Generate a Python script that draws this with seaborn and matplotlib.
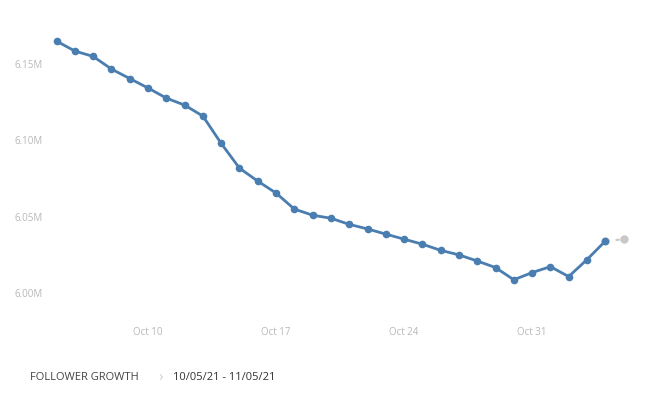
import pandas as pd
import seaborn as sns
import matplotlib.pyplot as plt
import matplotlib.dates as mdates

# Data (followers, millions)
dates = pd.date_range("2021-10-05", "2021-11-04", freq="D")
followers = [6.165, 6.1585, 6.155, 6.1467, 6.1405, 6.1343, 6.1277, 6.1231,
             6.1159, 6.098, 6.0818, 6.0733, 6.0655, 6.055, 6.051, 6.049,
             6.045, 6.042, 6.0386, 6.0353, 6.032, 6.028, 6.025, 6.021,
             6.0167, 6.0087, 6.0134, 6.0173, 6.0108, 6.0219, 6.034]
# partial (current) day
partial_dates = pd.to_datetime(["2021-11-04", "2021-11-05"])
partial_values = [6.034, 6.0353]

y_ticks = [6.00, 6.05, 6.10, 6.15]
y_labels = ["6.00M", "6.05M", "6.10M", "6.15M"]
x_ticks = pd.to_datetime(["2021-10-10", "2021-10-17", "2021-10-24", "2021-10-31"])

sns.set_theme(style="white")
plt.rcParams['font.family'] = ['Open Sans', 'DejaVu Sans']

df = pd.DataFrame({"date": dates, "followers": followers})
df_partial = pd.DataFrame({"date": partial_dates, "followers": partial_values})

fig = plt.figure(figsize=(6.53, 3.96), dpi=100)
W, H = 653, 396
ax = fig.add_axes([48 / W, 1 - 310 / H, (640 - 48) / W, (310 - 30) / H])

sns.lineplot(data=df_partial, x="date", y="followers", ax=ax, color="#c8c8c8",
             linestyle=(0, (2, 3)), linewidth=1.5, marker="o", markersize=6,
             markeredgewidth=0)
sns.lineplot(data=df, x="date", y="followers", ax=ax, color="#4a7db0",
             linewidth=2, marker="o", markersize=5.5, markeredgewidth=0)

ax.set_xlim(pd.Timestamp("2021-10-10") - pd.Timedelta(days=5.47),
            pd.Timestamp("2021-10-10") + pd.Timedelta(days=26.9))
ax.set_ylim(5.9889, 6.1723)
ax.set_yticks(y_ticks)
ax.set_yticklabels(y_labels)
ax.set_xticks(x_ticks)
ax.xaxis.set_major_formatter(mdates.DateFormatter("%b %-d"))
ax.tick_params(axis="both", colors="#b8b8b8", labelsize=7, length=0)
ax.tick_params(axis="x", pad=12)
ax.tick_params(axis="y", pad=4)
ax.set_xlabel("")
ax.set_ylabel("")
sns.despine(ax=ax, left=True, bottom=True)

fig.text(30 / W, 1 - 378 / H, "FOLLOWER GROWTH", fontsize=8, color="#444444",
         va="center", ha="left")
fig.text(158 / W, 1 - 378 / H, "\u203a", fontsize=11, color="#d0d0d0",
         va="center", ha="left")
fig.text(173 / W, 1 - 377 / H, "10/05/21 - 11/05/21", fontsize=8, color="#333333",
         va="center", ha="left")

fig.savefig("out.png", dpi=100)
